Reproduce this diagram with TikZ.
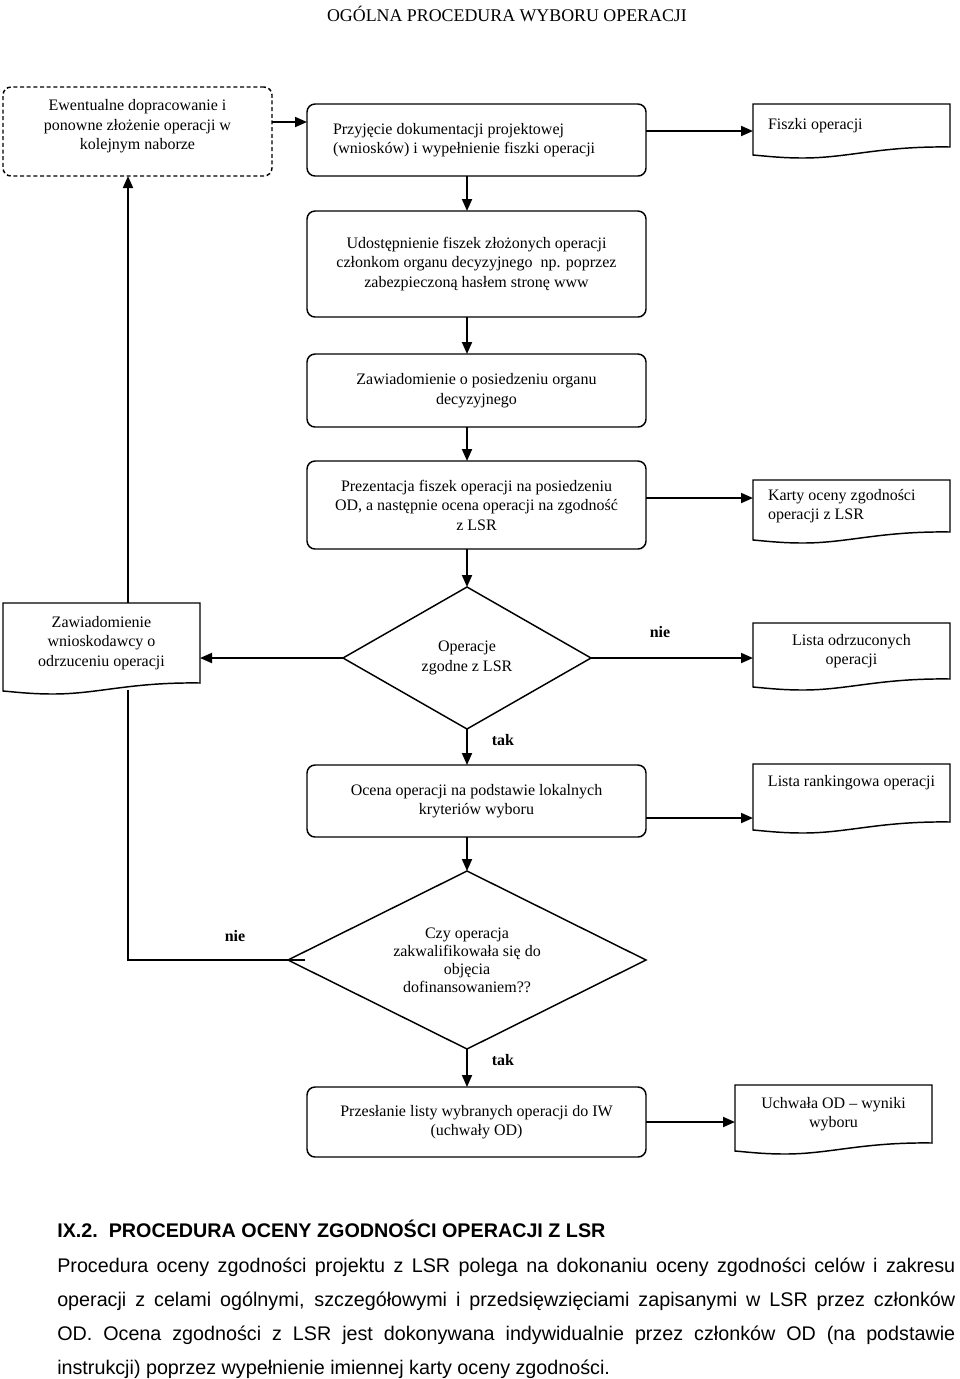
\documentclass[tikz,border=0pt]{standalone}
\usepackage{fontspec}
\setmainfont{Liberation Serif}
\newfontfamily\arialf{Liberation Sans}
\usetikzlibrary{arrows.meta,calc}
\tikzset{
  sz/.style 2 args={minimum width=#1*0.75pt, minimum height=#2*0.75pt},
  basebox/.style={inner sep=0pt, outer sep=0pt, font=\fontsize{12pt}{14.6pt}\selectfont, align=center},
  procbox/.style={basebox, draw, line width=1.1pt, rounded corners=6pt},
  dashbox/.style={procbox, dash pattern=on 3pt off 2pt},
  docbox/.style={basebox},
  decbox/.style={basebox},
  arr/.style={line width=1.4pt, -{Triangle[length=9pt,width=7.5pt]}},
  conn/.style={line width=1.4pt},
  lbl/.style={font=\fontsize{12pt}{13pt}\selectfont\bfseries, inner sep=0pt},
  shapeline/.style={line width=1.1pt, line join=miter},
  para/.style={anchor=base west, inner sep=0pt, font=\arialf\fontsize{14.8pt}{16pt}\selectfont},
}
\newcommand\wavedoc[1]{\draw[shapeline] ($(#1.south west)+(0,8)$) -- (#1.north west) -- (#1.north east) -- (#1.south east) .. controls +(-70,-1) and +(45,0) .. ($(#1.south west)+(50,11)$) .. controls +(-22,0) and +(12,1) .. ($(#1.south west)+(0,8)$) -- cycle;}
\newcommand\diamondout[1]{\draw[shapeline] (#1.north) -- (#1.east) -- (#1.south) -- (#1.west) -- cycle;}
\begin{document}
\begin{tikzpicture}[x=0.75pt,y=-0.75pt]
\useasboundingbox (0,0) rectangle (960,1379);
\coordinate (col) at (467,0);
\coordinate (lx) at (128,0);

\node[font=\fontsize{13.4pt}{15pt}\selectfont, inner sep=0pt] (title) at (507,14) {OGÓLNA PROCEDURA WYBORU OPERACJI};

\node[dashbox, sz={269}{89}, align=none] (b1) at (137.5,131.5) {\raisebox{4pt}[\height][\depth]{\begin{tabular}{@{}c@{}}Ewentualne dopracowanie i\\ponowne złożenie operacji w\\kolejnym naborze\end{tabular}}};
\node[procbox, sz={339}{72}, text width=215.25pt, align=flush left] (b2) at (476.5,140) {Przyjęcie dokumentacji projektowej\\(wniosków) i wypełnienie fiszki operacji};
\node[docbox, sz={197}{43}, text width=125.25pt, align=flush left] (fiszki) at (851.5,125.5) {Fiszki operacji};
\node[procbox, sz={339}{106}] (b3) at (476.5,264) {Udostępnienie fiszek złożonych operacji\\członkom organu decyzyjnego\ \ np. poprzez\\zabezpieczoną hasłem stronę www};
\node[procbox, sz={339}{73}] (b4) at (476.5,390.5) {Zawiadomienie o posiedzeniu organu\\decyzyjnego};
\node[procbox, sz={339}{88}] (b5) at (476.5,505) {Prezentacja fiszek operacji na posiedzeniu\\OD, a następnie ocena operacji na zgodność\\z LSR};
\node[docbox, sz={197}{52}, text width=125.25pt, align=flush left] (karty) at (851.5,506) {Karty oceny zgodności\\operacji z LSR};
\node[decbox, sz={248}{142}] (d1) at (467,658) {Operacje\\zgodne z LSR};
\node[docbox, sz={197}{80}] (zaw) at (101.5,643) {Zawiadomienie\\wnioskodawcy o\\odrzuceniu operacji};
\node[docbox, sz={197}{56}] (odrz) at (851.5,651) {Lista odrzuconych\\operacji};
\node[procbox, sz={339}{72}] (b6) at (476.5,801) {Ocena operacji na podstawie lokalnych\\kryteriów wyboru};
\node[docbox, sz={197}{58}] (rank) at (851.5,793) {Lista rankingowa operacji\\[3pt]\mbox{}};
\node[decbox, sz={358}{178}, font=\fontsize{12pt}{13.5pt}\selectfont] (d2) at (467,960) {Czy operacja\\zakwalifikowała się do\\objęcia\\dofinansowaniem??};
\node[procbox, sz={339}{70}] (b7) at (476.5,1122) {Przesłanie listy wybranych operacji do IW\\(uchwały OD)};
\node[docbox, sz={197}{58}] (uch) at (833.5,1114) {Uchwała OD – wyniki\\wyboru};

\diamondout{d1}
\diamondout{d2}
\wavedoc{fiszki}
\wavedoc{karty}
\wavedoc{zaw}
\wavedoc{odrz}
\wavedoc{rank}
\wavedoc{uch}

\coordinate (p1) at ($(b1.east)+(0,-9.5)$);
\draw[arr] (p1) -- (p1 -| b2.west);
\coordinate (p2) at ($(b2.east)+(0,-9)$);
\draw[arr] (p2) -- (p2 -| fiszki.west);
\draw[arr] (b2.south -| col) -- (b3.north -| col);
\draw[arr] (b3.south -| col) -- (b4.north -| col);
\draw[arr] (b4.south -| col) -- (b5.north -| col);
\draw[arr] (b5.south -| col) -- (d1.north);
\coordinate (p3) at ($(karty.west)+(0,-8)$);
\draw[arr] (p3 -| b5.east) -- (p3);
\draw[arr] (d1.east) -- (d1.east -| odrz.west);
\draw[arr] (d1.west) -- (d1.west -| zaw.east);
\draw[arr] (d1.south) -- (b6.north -| col);
\coordinate (p4) at ($(b6.east)+(0,17)$);
\draw[arr] (p4) -- (p4 -| rank.west);
\draw[arr] (b6.south -| col) -- (d2.north);
\draw[arr] (d2.south) -- (b7.north -| col);
\draw[arr] (b7.east) -- (b7.east -| uch.west);
\draw[conn] ($(d2.west)+(17,0)$) -- (d2.west) -- (d2.west -| lx) -- ($(lx |- zaw.south)+(0,7)$);
\draw[arr] (lx |- zaw.north) -- (lx |- b1.south);

\node[lbl] (nie1) at (660,632) {nie};
\node[lbl] (tak1) at (503,740) {tak};
\node[lbl] (nie2) at (235,936) {nie};
\node[lbl] (tak2) at (503,1060) {tak};

\node[para, font=\arialf\bfseries\fontsize{14.8pt}{16pt}\selectfont] (head) at (57,1237) {IX.2.\ \ PROCEDURA OCENY ZGODNOŚCI OPERACJI Z LSR};
\node[para] (l1) at (57,1272) {\makebox[673.5pt][s]{Procedura oceny zgodności projektu z LSR polega na dokonaniu oceny zgodności celów i zakresu}};
\node[para] (l2) at (57,1306) {\makebox[673.5pt][s]{operacji z celami ogólnymi, szczegółowymi i przedsięwzięciami zapisanymi w LSR przez członków}};
\node[para] (l3) at (57,1340) {\makebox[673.5pt][s]{OD. Ocena zgodności z LSR jest dokonywana indywidualnie przez członków OD (na podstawie}};
\node[para] (l4) at (57,1374) {instrukcji) poprzez wypełnienie imiennej karty oceny zgodności.};
\end{tikzpicture}
\end{document}
